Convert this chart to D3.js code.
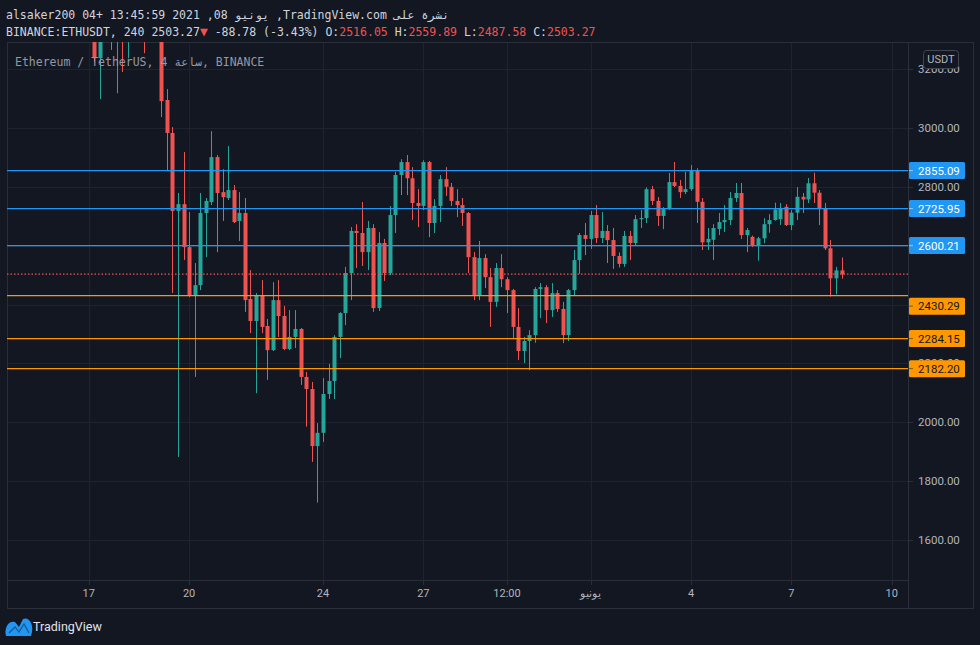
<!DOCTYPE html>
<html><head><meta charset="utf-8">
<script src="https://cdn.jsdelivr.net/npm/d3@7/dist/d3.min.js"></script>
<style>html,body{margin:0;padding:0;background:#131722;}svg{display:block;}</style>
</head><body>
<svg id="c" width="980" height="645"></svg>
<script>
// ---- data ----
const startTime = Date.UTC(2021, 4, 17, 0, 0); // first 4h candle
const candleHours = 4;
const open  = [3520,3420,3237,3360,3400,3330,3350,3310,3380,3420,3440,3390,3400,3370,3095,2983,2718,2741,2595,2432,
               2466,2711,2748,2901,2782,2762,2789,2684,2711,2419,2344,2432,2327,2245,2415,2361,2249,2290,2317,2154,
               2113,1919,1964,2096,2140,2290,2371,2507,2650,2643,2578,2660,2388,2609,2507,2704,2840,2884,2829,2745,
               2735,2884,2677,2735,2826,2800,2752,2738,2711,2561,2429,2558,2493,2409,2524,2486,2449,2324,2242,2276,
               2296,2453,2459,2381,2439,2385,2296,2449,2551,2636,2623,2704,2626,2650,2619,2565,2538,2633,2609,2690,
               2694,2792,2752,2701,2724,2816,2803,2782,2792,2857,2749,2611,2620,2657,2680,2687,2762,2779,2636,2630,
               2599,2625,2673,2687,2690,2732,2670,2712,2766,2757,2812,2780,2727,2591,2489,2516.05];
const high  = [3580,3440,3400,3420,3430,3380,3390,3400,3450,3480,3460,3440,3420,3400,3132,3003,2779,2918,2714,2541,
               2779,2762,2989,2908,2860,2938,2806,2782,2762,2517,2439,2483,2351,2476,2483,2395,2381,2381,2320,2171,
               2137,1997,2150,2198,2296,2374,2528,2663,2673,2748,2684,2673,2646,2623,2735,2851,2894,2908,2867,2792,
               2890,2888,2758,2840,2867,2813,2792,2762,2714,2578,2616,2571,2524,2541,2571,2493,2453,2388,2290,2313,
               2459,2473,2466,2473,2449,2409,2453,2585,2643,2677,2718,2738,2714,2670,2660,2577,2650,2650,2704,2721,
               2798,2803,2765,2731,2847,2884,2823,2851,2874,2863,2762,2660,2673,2711,2738,2782,2813,2813,2660,2634,
               2630,2693,2707,2746,2745,2741,2721,2799,2779,2830,2848,2789,2745,2619,2528,2559.89];
const low   = [3380,3225,3098,3320,3265,3118,3190,3237,3340,3380,3254,3340,3330,3037,2857,2439,1882,2551,2425,2154,
               2449,2561,2738,2578,2684,2755,2677,2616,2375,2303,2099,2303,2144,2242,2290,2245,2245,2252,2127,1985,
               1865,1727,1933,2079,2079,2218,2330,2415,2524,2531,2517,2375,2378,2480,2500,2643,2772,2772,2687,2663,
               2721,2629,2643,2680,2769,2735,2697,2667,2507,2415,2415,2456,2324,2392,2459,2371,2286,2211,2201,2177,
               2270,2354,2337,2358,2375,2269,2276,2432,2504,2568,2589,2609,2609,2541,2521,2526,2528,2551,2602,2660,
               2677,2738,2667,2656,2721,2799,2762,2775,2786,2677,2585,2585,2551,2636,2646,2670,2748,2623,2578,2595,
               2549,2608,2644,2685,2670,2667,2653,2687,2711,2745,2745,2670,2585,2427,2435,2487.58];
const close = [3420,3237,3360,3400,3330,3350,3310,3380,3420,3440,3390,3400,3370,3091,2983,2718,2741,2595,2432,2466,
               2711,2752,2901,2779,2765,2789,2680,2711,2415,2344,2432,2324,2245,2415,2361,2249,2290,2317,2154,2113,
               1919,1964,2096,2140,2290,2371,2507,2650,2643,2578,2660,2388,2609,2507,2704,2840,2884,2829,2745,2735,
               2884,2677,2735,2826,2800,2752,2738,2711,2561,2429,2558,2493,2409,2524,2486,2449,2324,2242,2276,2296,
               2453,2459,2381,2439,2385,2296,2449,2551,2636,2623,2704,2626,2650,2619,2565,2538,2633,2609,2690,2694,
               2792,2752,2701,2724,2816,2803,2782,2792,2857,2749,2611,2623,2660,2680,2687,2762,2779,2636,2653,2599,
               2625,2673,2687,2723,2727,2670,2712,2766,2757,2812,2780,2727,2591,2489,2516,2503.27];

const levelValues = [2855.09, 2725.95, 2600.21, 2430.29, 2284.15, 2182.20];
const levelKinds  = ["resistance","resistance","resistance","support","support","support"];
const lastPrice = 2503.27;

const priceTicks = [1600, 1800, 2000, 2200, 2400, 2600, 2800, 3000, 3200];
const timeTickDates  = ["2021-05-17T00:00Z","2021-05-20T00:00Z","2021-05-24T00:00Z","2021-05-27T00:00Z",
                        "2021-05-29T12:00Z","2021-06-01T00:00Z","2021-06-04T00:00Z","2021-06-07T00:00Z","2021-06-10T00:00Z"];
const timeTickLabels = ["17","20","24","27","12:00","يونيو","4","7","10"];

// ---- layout ----
const svg = d3.select("#c");
const W = 980, H = 645;
const plot = {left: 7, right: 908, top: 42, bottom: 580};
const frame = {right: 973, bottom: 608};
const C = {bg:"#131722", grid:"#1f2330", border:"#2a2e39", text:"#b2b5be", up:"#26a69a", down:"#ef5350",
           blue:"#2196f3", orange:"#ff9800"};

svg.append("rect").attr("width", W).attr("height", H).attr("fill", C.bg);

const x = d3.scaleUtc()
  .domain([new Date("2021-05-17T00:00Z"), new Date("2021-06-10T00:00Z")])
  .range([88.7, 891.8]);
const y = d3.scaleLinear().domain([1464, 3292]).range([plot.bottom, plot.top]);

const candles = open.map((o, i) => ({
  t: new Date(startTime + i * candleHours * 3600e3), o, h: high[i], l: low[i], c: close[i]
}));

// clip
svg.append("defs").append("clipPath").attr("id", "pc")
  .append("rect").attr("x", plot.left).attr("y", plot.top)
  .attr("width", plot.right - plot.left).attr("height", plot.bottom - plot.top);

// grid
const tickDates = timeTickDates.map(d => new Date(d));
svg.append("g").selectAll("line").data(tickDates).join("line")
  .attr("x1", d => Math.round(x(d)) + 0.5).attr("x2", d => Math.round(x(d)) + 0.5)
  .attr("y1", plot.top).attr("y2", plot.bottom).attr("stroke", C.grid);
svg.append("g").selectAll("line").data(priceTicks).join("line")
  .attr("y1", d => Math.round(y(d)) + 0.5).attr("y2", d => Math.round(y(d)) + 0.5)
  .attr("x1", plot.left).attr("x2", plot.right).attr("stroke", C.grid);

// frame
svg.append("rect").attr("x", plot.left + 0.5).attr("y", plot.top + 0.5)
  .attr("width", frame.right - plot.left).attr("height", frame.bottom - plot.top)
  .attr("fill", "none").attr("stroke", C.border);
svg.append("line").attr("x1", plot.right + 0.5).attr("x2", plot.right + 0.5)
  .attr("y1", plot.top).attr("y2", frame.bottom).attr("stroke", C.border);
svg.append("line").attr("x1", plot.left).attr("x2", plot.right)
  .attr("y1", plot.bottom + 0.5).attr("y2", plot.bottom + 0.5).attr("stroke", C.border);

// candles
const cg = svg.append("g").attr("clip-path", "url(#pc)");
const bw = 4;
const cand = cg.selectAll("g").data(candles).join("g");
cand.append("line")
  .attr("x1", d => Math.round(x(d.t)) + 0.5).attr("x2", d => Math.round(x(d.t)) + 0.5)
  .attr("y1", d => y(d.h)).attr("y2", d => y(d.l))
  .attr("stroke", d => d.c >= d.o ? C.up : C.down).attr("stroke-width", 1);
cand.append("rect")
  .attr("x", d => Math.round(x(d.t)) - 1.5).attr("width", bw)
  .attr("y", d => y(Math.max(d.o, d.c)))
  .attr("height", d => Math.max(1, Math.abs(y(d.o) - y(d.c))))
  .attr("fill", d => d.c >= d.o ? C.up : C.down);

// last price dotted line
svg.append("line").attr("x1", plot.left).attr("x2", plot.right)
  .attr("y1", y(lastPrice)).attr("y2", y(lastPrice))
  .attr("stroke", C.down).attr("stroke-width", 1.2).attr("stroke-dasharray", "1.5,2");

// level lines
const levels = levelValues.map((v, i) => ({v, color: levelKinds[i] === "support" ? C.orange : C.blue,
  txt: levelKinds[i] === "support" ? "#131722" : "#ffffff"}));
svg.append("g").selectAll("line").data(levels).join("line")
  .attr("x1", plot.left).attr("x2", plot.right)
  .attr("y1", d => y(d.v)).attr("y2", d => y(d.v))
  .attr("stroke", d => d.color).attr("stroke-width", 1.2);

// price axis labels
const fontUI = "Roboto, 'Liberation Sans', sans-serif";
const pa = svg.append("g");
pa.selectAll("line").data(priceTicks).join("line")
  .attr("x1", plot.right + 1).attr("x2", plot.right + 5)
  .attr("y1", d => Math.round(y(d)) + 0.5).attr("y2", d => Math.round(y(d)) + 0.5)
  .attr("stroke", C.border);
pa.selectAll("text").data(priceTicks).join("text")
  .attr("x", 918).attr("y", d => y(d)).attr("dy", "0.35em")
  .attr("font-family", fontUI).attr("font-size", 11.5).attr("fill", C.text)
  .text(d => d3.format(".2f")(d));

// level labels (simple collision nudge against the hidden last-price label zone)
const lastY = y(lastPrice);
const lg = svg.append("g");
levels.forEach(d => {
  let cy = y(d.v);
  if (cy > lastY && cy - lastY < 26) cy = lastY + 32;
  const g = lg.append("g");
  g.append("rect").attr("x", plot.right + 1).attr("y", cy - 8.5).attr("width", 56).attr("height", 17)
    .attr("rx", 1.5).attr("fill", d.color);
  g.append("line").attr("x1", plot.right + 1).attr("x2", plot.right + 5).attr("y1", cy).attr("y2", cy)
    .attr("stroke", d.txt).attr("opacity", 0.5);
  g.append("text").attr("x", 918).attr("y", cy).attr("dy", "0.35em")
    .attr("font-family", fontUI).attr("font-size", 11.5).attr("fill", d.txt)
    .text(d3.format(".2f")(d.v));
});

// USDT badge
svg.append("rect").attr("x", 923.5).attr("y", 50.5).attr("width", 35).attr("height", 18).attr("rx", 3)
  .attr("fill", C.bg).attr("stroke", "#434651");
svg.append("text").attr("x", 941).attr("y", 59.5).attr("dy", "0.35em").attr("text-anchor", "middle")
  .attr("font-family", fontUI).attr("font-size", 11).attr("fill", C.text).text("USDT");

// time axis
const ta = svg.append("g");
ta.selectAll("line").data(tickDates).join("line")
  .attr("x1", d => Math.round(x(d)) + 0.5).attr("x2", d => Math.round(x(d)) + 0.5)
  .attr("y1", plot.bottom + 1).attr("y2", plot.bottom + 5).attr("stroke", C.border);
ta.selectAll("text").data(tickDates).join("text")
  .attr("x", d => x(d)).attr("y", 593).attr("dy", "0.35em").attr("text-anchor", "middle")
  .attr("font-family", fontUI).attr("font-size", 11).attr("fill", C.text)
  .text((d, i) => timeTickLabels[i]);

// header
const mono = "'DejaVu Sans Mono', monospace";
svg.append("text").attr("x", 6).attr("y", 15).attr("dy", "0.35em")
  .attr("font-family", mono).attr("font-size", 11.5).attr("fill", "#d1d4dc")
  .text("alsaker200 04+ 13:45:59 2021 ,08 يونيو ,TradingView.com نشرة على");
const h2 = svg.append("text").attr("x", 6).attr("y", 32).attr("dy", "0.35em")
  .attr("font-family", mono).attr("font-size", 11.5).attr("fill", "#d1d4dc");
h2.append("tspan").text("BINANCE:ETHUSDT, 240 2503.27");
h2.append("tspan").attr("fill", C.down).attr("font-size", 13).text("▼");
h2.append("tspan").text(" -88.78 (-3.43%) O:");
h2.append("tspan").attr("fill", C.down).text("2516.05");
h2.append("tspan").text(" H:");
h2.append("tspan").attr("fill", C.down).text("2559.89");
h2.append("tspan").text(" L:");
h2.append("tspan").attr("fill", C.down).text("2487.58");
h2.append("tspan").text(" C:");
h2.append("tspan").attr("fill", C.down).text("2503.27");

// legend
svg.append("text").attr("x", 15).attr("y", 62).attr("dy", "0.35em")
  .attr("font-family", mono).attr("font-size", 11.5).attr("fill", "#9598a1")
  .text("Ethereum / TetherUS, 4 ساعة, BINANCE");

// logo
svg.append("path").attr("d", "M6,636 C4,629 8,620 15,622 L19,627 L23,619 C29,616 35,625 31,636 Z")
  .attr("fill", "#2196f3");
svg.append("path").attr("d", "M9,633 L15,627 L19,632 L24,624 L29,633")
  .attr("fill", "none").attr("stroke", "#131722").attr("stroke-width", 1.2).attr("opacity", 0.5);
svg.append("text").attr("x", 33).attr("y", 627).attr("dy", "0.35em")
  .attr("font-family", fontUI).attr("font-size", 12.5).attr("fill", "#e0e3eb").text("TradingView");
</script>
</body></html>
